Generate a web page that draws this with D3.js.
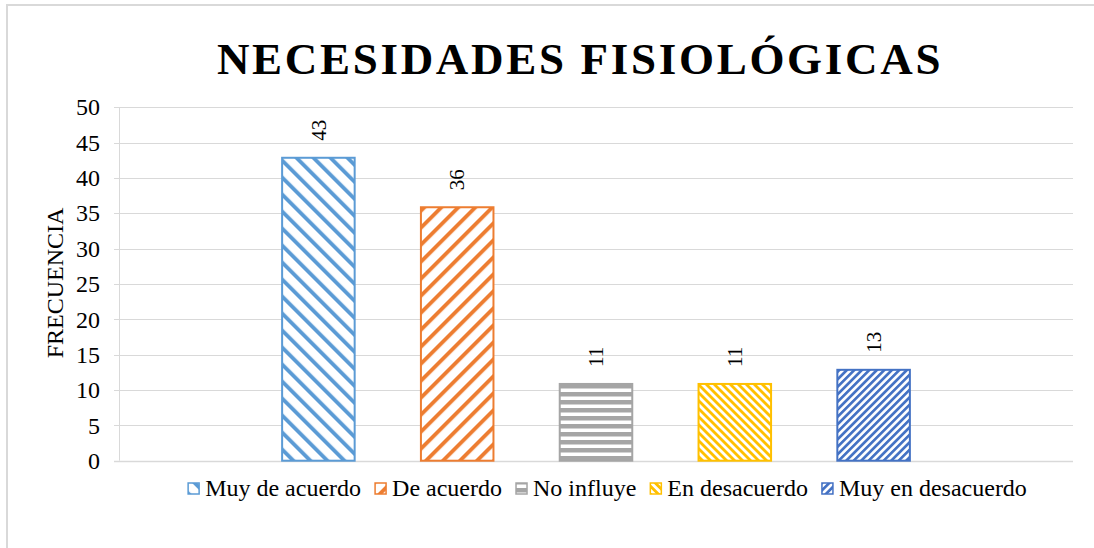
<!DOCTYPE html>
<html>
<head>
<meta charset="utf-8">
<script src="https://cdn.jsdelivr.net/npm/d3@7"></script>
<style>
  body { margin: 0; background: #fff; }
  text { font-family: "Liberation Serif", "Times New Roman", serif; }
</style>
</head>
<body>
<svg id="chart" width="1094" height="548"></svg>
<script>
// data
const categories = ["Muy de acuerdo", "De acuerdo", "No influye", "En desacuerdo", "Muy en desacuerdo"];
const values = [43, 36, 11, 11, 13];
const colors = ["#5B9BD5", "#ED7D31", "#A5A5A5", "#FFC000", "#4472C4"];
const yTicks = [0, 5, 10, 15, 20, 25, 30, 35, 40, 45, 50];

const serif = "'Liberation Serif', 'Times New Roman', serif";
const svg = d3.select("#chart");
const defs = svg.append("defs");

// outer chart border
svg.append("rect")
  .attr("x", 7).attr("y", 5)
  .attr("width", 1100).attr("height", 560)
  .attr("fill", "none")
  .attr("stroke", "#d9d9d9")
  .attr("stroke-width", 2);

// hatch patterns (one per series)
// kind: down = "\" , up = "/", horiz = horizontal lines
const hatch = [
  { kind: "down", period: 17, thick: 5.5 },
  { kind: "up", period: 17, thick: 5.5 },
  { kind: "horiz", period: 8, thick: 4.5 },
  { kind: "down", period: 8, thick: 4 },
  { kind: "up", period: 7.5, thick: 3.8 }
];

hatch.forEach((h, i) => {
  const p = defs.append("pattern")
    .attr("id", "pat" + i)
    .attr("patternUnits", "userSpaceOnUse");
  if (h.kind === "horiz") {
    p.attr("width", 10).attr("height", h.period);
    p.append("rect").attr("width", 10).attr("height", h.period).attr("fill", "#fff");
    p.append("rect").attr("width", 10).attr("height", h.thick).attr("fill", colors[i]);
  } else {
    const perp = h.period / Math.SQRT2;
    const t = h.thick / Math.SQRT2;
    p.attr("width", perp).attr("height", 10)
      .attr("patternTransform", `rotate(${h.kind === "down" ? -45 : 45})`);
    p.append("rect").attr("width", perp).attr("height", 10).attr("fill", "#fff");
    p.append("rect").attr("width", t).attr("height", 10).attr("fill", colors[i]);
  }
});

// scales
const x = d3.scaleBand()
  .domain(categories)
  .range([119, 1073])
  .paddingInner(0.463)
  .paddingOuter(1.168);

const y = d3.scaleLinear()
  .domain([0, 50])
  .range([460.7, 107.3]);

// gridlines
svg.append("g")
  .selectAll("line")
  .data(yTicks)
  .join("line")
  .attr("x1", 114).attr("x2", 1073)
  .attr("y1", d => Math.round(y(d)) + 0.5)
  .attr("y2", d => Math.round(y(d)) + 0.5)
  .attr("stroke", "#d9d9d9")
  .attr("stroke-width", d => d === 0 ? 1.5 : 1);

// y axis line
svg.append("line")
  .attr("x1", 119.5).attr("x2", 119.5)
  .attr("y1", y(50)).attr("y2", y(0))
  .attr("stroke", "#d9d9d9");

// y tick labels
svg.append("g")
  .selectAll("text")
  .data(yTicks)
  .join("text")
  .attr("x", 100)
  .attr("y", d => y(d))
  .attr("dy", "0.34em")
  .attr("text-anchor", "end")
  .attr("font-family", serif)
  .attr("font-size", 24)
  .attr("fill", "#000")
  .text(d => d);

// y axis title
svg.append("text")
  .attr("transform", "translate(63,283) rotate(-90)")
  .attr("text-anchor", "middle")
  .attr("font-family", serif)
  .attr("font-size", 24)
  .attr("fill", "#000")
  .text("FRECUENCIA");

// bars
svg.append("g")
  .selectAll("rect")
  .data(categories)
  .join("rect")
  .attr("x", d => x(d) + 1)
  .attr("width", x.bandwidth() - 2)
  .attr("y", (d, i) => y(values[i]) + 1)
  .attr("height", (d, i) => y(0) - y(values[i]) - 1)
  .attr("fill", (d, i) => `url(#pat${i})`)
  .attr("stroke", (d, i) => colors[i])
  .attr("stroke-width", 2);

// data labels (rotated)
svg.append("g")
  .selectAll("text")
  .data(categories)
  .join("text")
  .attr("transform", (d, i) => `translate(${x(d) + x.bandwidth() / 2},${y(values[i]) - 16}) rotate(-90)`)
  .attr("dy", "0.34em")
  .attr("text-anchor", "start")
  .attr("font-family", serif)
  .attr("font-size", 21)
  .attr("fill", "#000")
  .text((d, i) => values[i]);

// title
svg.append("text")
  .attr("x", 580)
  .attr("y", 74)
  .attr("text-anchor", "middle")
  .attr("font-family", serif)
  .attr("font-size", 45)
  .attr("font-weight", "bold")
  .attr("letter-spacing", 2.7)
  .attr("fill", "#000")
  .text("NECESIDADES FISIOLÓGICAS");

// legend
const legend = svg.append("g");
const legendFont = 24;
const items = legend.selectAll("g")
  .data(categories)
  .join("g");
items.append("rect")
  .attr("width", 11).attr("height", 11)
  .attr("y", -13)
  .attr("fill", (d, i) => `url(#pat${i})`)
  .attr("stroke", (d, i) => colors[i])
  .attr("stroke-width", 1.5);
items.append("text")
  .attr("x", 17)
  .attr("font-family", serif)
  .attr("font-size", legendFont)
  .attr("fill", "#000")
  .text(d => d);

let widths = [];
items.each(function () {
  widths.push(17 + d3.select(this).select("text").node().getComputedTextLength());
});
const gap = 14;
const total = d3.sum(widths) + gap * (widths.length - 1);
let cx = 607.5 - total / 2;
items.attr("transform", (d, i) => {
  const t = `translate(${cx},496)`;
  cx += widths[i] + gap;
  return t;
});
</script>
</body>
</html>
